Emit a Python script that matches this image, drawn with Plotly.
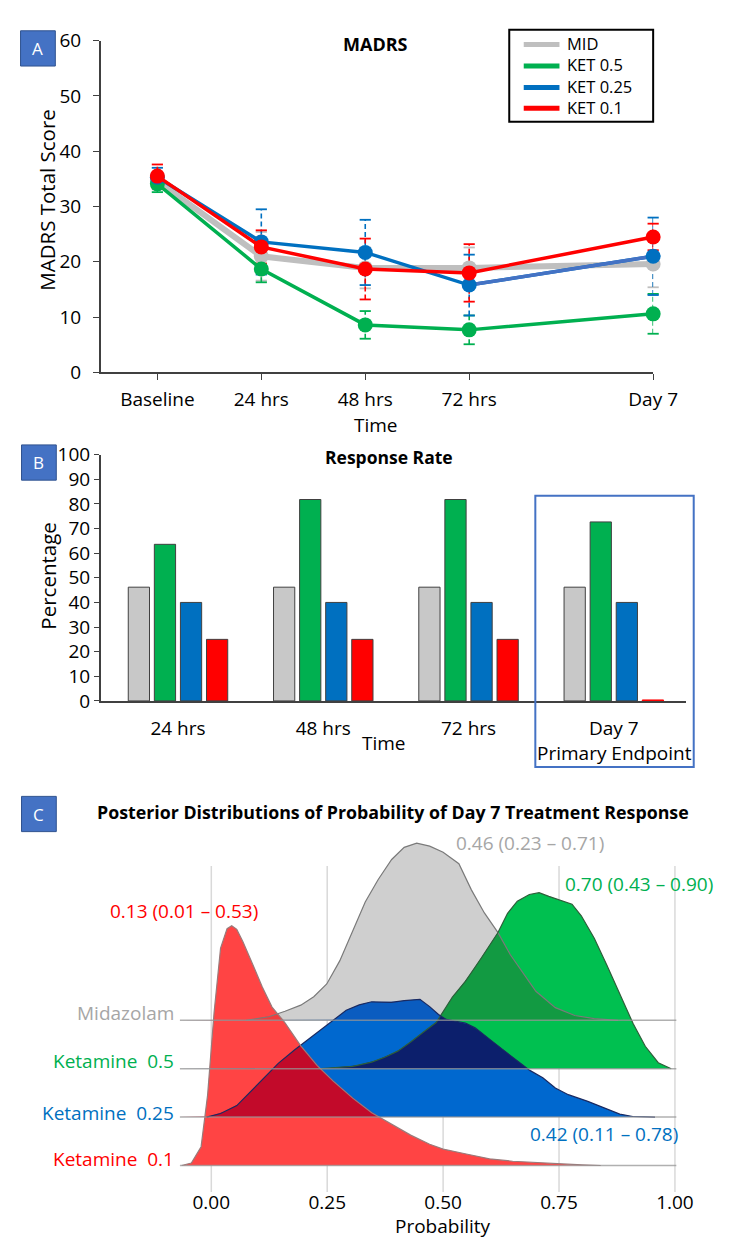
import numpy as np
import plotly.graph_objects as go

W, H = 731, 1239
def X(px): return px / W
def Y(py): return 1 - py / H

FONT = "Open Sans"
C_MID, C_K05, C_K025, C_K01 = "#BFBFBF", "#00B050", "#0070C0", "#FF0000"

# ---------------- Panel A: MADRS ----------------
time_labels = ["Baseline", "24 hrs", "48 hrs", "72 hrs", "Day 7"]
time_pos = [0, 1, 2, 3, 4.77]
madrs_mid = [34.6, 21.0, 18.9, 18.9, 19.6]
madrs_ket05 = [34.1, 18.7, 8.6, 7.7, 10.6]
madrs_ket025 = [35.3, 23.6, 21.7, 15.8, 21.0]
madrs_ket01 = [35.5, 22.7, 18.7, 18.0, 24.5]
se_mid = [1.5, 4.4, 3.7, 3.7, 4.2]
se_ket05 = [1.5, 2.4, 2.5, 2.6, 3.6]
se_ket025 = [1.7, 5.9, 5.9, 5.5, 7.0]
se_ket01 = [2.1, 3.0, 5.5, 5.2, 2.4]
series_names = ["MID", "KET 0.5", "KET 0.25", "KET 0.1"]

# ---------------- Panel B: Response rate ----------------
rr_labels = ["24 hrs", "48 hrs", "72 hrs", "Day 7"]
rr_mid = [46.2, 46.2, 46.2, 46.2]
rr_ket05 = [63.6, 81.8, 81.8, 72.7]
rr_ket025 = [40.0, 40.0, 40.0, 40.0]
rr_ket01 = [25.0, 25.0, 25.0, 0.4]

# ---------------- Panel C: posterior densities ----------------
prob_ticks = [0, 0.25, 0.5, 0.75, 1.0]
prob_ticktext = ["0.00", "0.25", "0.50", "0.75", "1.00"]
mid_x = [0.075, 0.124, 0.159, 0.193, 0.221, 0.249, 0.277, 0.305, 0.332, 0.360, 0.389, 0.416,
         0.443, 0.471, 0.50, 0.534, 0.561, 0.589, 0.618, 0.645, 0.674, 0.70, 0.742, 0.784, 0.826, 0.877]
mid_d = [0, 0.06, 0.15, 0.25, 0.39, 0.60, 0.98, 1.47, 1.95, 2.32, 2.65, 2.85,
         2.92, 2.87, 2.77, 2.58, 2.15, 1.77, 1.45, 1.08, 0.76, 0.48, 0.21, 0.08, 0.03, 0]
k05_x = [0.23, 0.249, 0.305, 0.346, 0.374, 0.402, 0.43, 0.457, 0.485, 0.52, 0.548, 0.582, 0.618, 0.639,
         0.66, 0.686, 0.707, 0.728, 0.757, 0.778, 0.798, 0.826, 0.853, 0.881, 0.91, 0.936, 0.964, 0.992]
k05_d = [0, 0.01, 0.04, 0.11, 0.19, 0.29, 0.44, 0.60, 0.76, 1.18, 1.44, 1.82, 2.24, 2.56,
         2.76, 2.87, 2.90, 2.84, 2.76, 2.71, 2.52, 2.15, 1.71, 1.23, 0.74, 0.37, 0.10, 0]
k025_x = [-0.01, 0.02, 0.055, 0.082, 0.11, 0.145, 0.18, 0.207, 0.235, 0.264, 0.291, 0.319, 0.346, 0.388,
          0.416, 0.45, 0.471, 0.49, 0.506, 0.548, 0.569, 0.604, 0.638, 0.666, 0.687, 0.715, 0.742, 0.770,
          0.812, 0.846, 0.881, 0.909, 0.957]
k025_d = [0, 0.06, 0.19, 0.40, 0.63, 0.89, 1.11, 1.27, 1.44, 1.60, 1.76, 1.85, 1.90, 1.89,
          1.92, 1.94, 1.82, 1.69, 1.61, 1.55, 1.47, 1.26, 1.05, 0.89, 0.77, 0.65, 0.48, 0.37,
          0.26, 0.16, 0.05, 0.01, 0]
k01_x = [-0.064, -0.043, -0.022, -0.008, 0.006, 0.020, 0.034, 0.044, 0.055, 0.068, 0.089, 0.110, 0.131,
         0.159, 0.193, 0.228, 0.263, 0.305, 0.346, 0.388, 0.430, 0.471, 0.50, 0.55, 0.60, 0.65, 0.70,
         0.75, 0.80, 0.84]
k01_d = [0, 0.04, 0.31, 1.16, 2.52, 3.58, 3.90, 3.95, 3.89, 3.69, 3.32, 2.94, 2.61,
         2.35, 1.97, 1.65, 1.39, 1.11, 0.87, 0.68, 0.50, 0.35, 0.27, 0.19, 0.11, 0.07, 0.05,
         0.02, 0.01, 0]
ridge_labels = ["Midazolam", "Ketamine\u00a0\u00a00.5", "Ketamine\u00a0\u00a00.25", "Ketamine\u00a0\u00a00.1"]
ridge_summaries = ["0.46 (0.23 \u2013 0.71)", "0.70 (0.43 \u2013 0.90)",
                   "0.42 (0.11 \u2013 0.78)", "0.13 (0.01 \u2013 0.53)"]

fig = go.Figure()

# ---- Panel A traces ----
madrs = [madrs_mid, madrs_ket05, madrs_ket025, madrs_ket01]
ses = [se_mid, se_ket05, se_ket025, se_ket01]
cols = [C_MID, C_K05, C_K025, C_K01]
lw = [6, 3.5, 3.5, 3.5]
for vals, se, c in zip(madrs, ses, cols):
    ex, ey, cx, cy = [], [], [], []
    for t, v, s in zip(time_pos, vals, se):
        ex += [t, t, None]
        ey += [v - s, v + s, None]
        cx += [t, t]
        cy += [v - s, v + s]
    fig.add_trace(go.Scatter(x=ex, y=ey, mode="lines", line=dict(color=c, width=1.6, dash="5px,3px"),
                             showlegend=False, hoverinfo="skip", xaxis="x", yaxis="y"))
    fig.add_trace(go.Scatter(x=cx, y=cy, mode="markers", showlegend=False, hoverinfo="skip",
                             marker=dict(symbol="line-ew", size=8, line=dict(color=c, width=1.8)),
                             xaxis="x", yaxis="y", cliponaxis=False))
for vals, c, w, nm in zip(madrs, cols, lw, series_names):
    fig.add_trace(go.Scatter(x=time_pos, y=vals, mode="lines", line=dict(color=c, width=w),
                             showlegend=False, xaxis="x", yaxis="y", cliponaxis=False))
    if nm == "KET 0.25":
        fig.add_trace(go.Scatter(x=time_pos[3:], y=vals[3:], mode="lines",
                                 line=dict(color="#4472C4", width=w), showlegend=False,
                                 xaxis="x", yaxis="y"))
    fig.add_trace(go.Scatter(x=time_pos, y=vals, mode="markers", marker=dict(color=c, size=15),
                             showlegend=False, xaxis="x", yaxis="y", cliponaxis=False))

# ---- Panel B traces ----
rr = [rr_mid, rr_ket05, rr_ket025, rr_ket01]
bar_cols = ["#C8C8C8", "#00B050", "#0070C0", "#FF0000"]
for vals, c, nm in zip(rr, bar_cols, series_names):
    lc = ["#404040" if v > 1 else c for v in vals]
    fig.add_trace(go.Bar(x=rr_labels, y=vals, marker=dict(color=c, line=dict(color=lc, width=1)),
                         showlegend=False, name=nm, xaxis="x2", yaxis="y2"))

# ---- Panel C traces ----
row_gap = 0.797
ridges = [(mid_x, mid_d, 3 * row_gap, "#CFCFCF", "#7A7A7A"),
          (k05_x, k05_d, 2 * row_gap, "#00C050", "#2E5E3A"),
          (k025_x, k025_d, 1 * row_gap, "#0068CF", "#1A2A62"),
          (k01_x, k01_d, 0.0, "#FF4444", "#9A7A7A")]
for xs, ds, base, fc, oc in ridges:
    fig.add_trace(go.Scatter(x=xs, y=[base + d for d in ds], mode="lines", fill="toself",
                             fillcolor=fc, line=dict(width=0), showlegend=False, hoverinfo="skip",
                             xaxis="x3", yaxis="y3"))

xg = np.linspace(-0.07, 1.0, 900)
tops = []
for xs, ds, base, fc, oc in ridges:
    tops.append(base + np.interp(xg, xs, ds, left=0, right=0))
bases = [r[2] for r in ridges]

def overlap(i, j, color):
    # i: higher row, j: lower row
    top = np.maximum(np.minimum(tops[i], tops[j]), bases[i])
    fig.add_trace(go.Scatter(x=np.concatenate([xg, xg[::-1]]),
                             y=np.concatenate([top, np.full_like(xg, bases[i])]),
                             mode="lines", fill="toself", fillcolor=color, line=dict(width=0),
                             showlegend=False, hoverinfo="skip", xaxis="x3", yaxis="y3"))

overlap(0, 1, "#129A42")   # midazolam & ket 0.5
overlap(0, 2, "#0A5CC0")   # midazolam & ket 0.25
overlap(0, 3, "#F03C3C")   # midazolam & ket 0.1
overlap(1, 2, "#0C1F6C")   # ket 0.5 & ket 0.25
overlap(2, 3, "#C20A2A")   # ket 0.25 & ket 0.1

for xs, ds, base, fc, oc in ridges:
    fig.add_trace(go.Scatter(x=xs, y=[base + d for d in ds], mode="lines",
                             line=dict(color=oc, width=1.2), showlegend=False, hoverinfo="skip",
                             xaxis="x3", yaxis="y3"))

# ---------------- Layout ----------------
TICK = 19
axis_common = dict(showgrid=False, zeroline=False, tickfont=dict(size=TICK, color="black", family=FONT))
shapes = []
annotations = []

def ann(text, px, py, size=TICK, color="black", bold=False, angle=0, xanchor="center", align="center"):
    annotations.append(dict(text=("<b>%s</b>" % text) if bold else text, x=X(px), y=Y(py),
                            xref="paper", yref="paper", showarrow=False, xanchor=xanchor,
                            yanchor="middle", textangle=angle, align=align,
                            font=dict(size=size, color=color, family=FONT)))

# badges
for letter, x0, y0 in [("A", 13, 10), ("B", 14, 433), ("C", 14, 792)]:
    shapes.append(dict(type="rect", xref="paper", yref="paper", x0=X(x0), x1=X(x0 + 36),
                       y0=Y(y0 + 36), y1=Y(y0), fillcolor="#4472C4", line=dict(color="#2F528F", width=1)))
    ann(letter, x0 + 18, y0 + 18, size=17, color="white")

# Panel A texts
ann("MADRS", 380, 24, size=18, bold=True)
ann("Time", 381, 413)
ann("MADRS Total Score", 41, 183, size=20.5, angle=-90)
# manual legend (boxed)
shapes.append(dict(type="rect", xref="paper", yref="paper", x0=X(519), x1=X(668), y0=Y(103), y1=Y(9),
                   line=dict(color="black", width=2), fillcolor="white"))
for c, ly in zip(cols, [24, 46, 68, 89]):
    shapes.append(dict(type="line", xref="paper", yref="paper", x0=X(534), x1=X(571), y0=Y(ly), y1=Y(ly),
                       line=dict(color=c, width=5)))
ann("<br>".join(series_names), 577, 56, size=16.5, xanchor="left", align="left")

# Panel B texts
ann("Response Rate", 394, 445, size=17.5, bold=True)
ann("Percentage", 42, 567, size=20.5, angle=-90)
ann("Time", 389, 737)
ann("Primary Endpoint", 628, 748)
shapes.append(dict(type="rect", xref="paper", yref="paper", x0=X(546), x1=X(710), y0=Y(762), y1=Y(485),
                   line=dict(color="#4472C4", width=2), fillcolor="rgba(0,0,0,0)"))
# Panel C texts
ann("Posterior Distributions of Probability of Day 7 Treatment Response", 399, 808, size=17.8, bold=True)
ann("Probability", 450, 1231)
label_cols = ["#A6A6A6", C_K05, C_K025, C_K01]
for lab, c, py in zip(ridge_labels, label_cols, [1013, 1062, 1115, 1162]):
    ann(lab, 174, py, color=c, xanchor="right")
for txt, c, (px, py) in zip(ridge_summaries, label_cols,
                            [(540, 840), (653, 881), (617, 1137), (182, 909)]):
    ann(txt, px, py, color=c)
for t in prob_ticks:
    shapes.append(dict(type="line", xref="x3", yref="paper", x0=t, x1=t, y0=Y(1196), y1=Y(863),
                       line=dict(color="#D9D9D9", width=1.5), layer="below"))
for b in bases:
    shapes.append(dict(type="line", xref="x3 domain", yref="y3", x0=0, x1=1, y0=b, y1=b,
                       line=dict(color="rgba(150,150,150,0.75)", width=1.5), layer="above"))

fig.update_layout(
    width=W, height=H, margin=dict(l=0, r=0, t=0, b=0), autosize=False,
    paper_bgcolor="white", plot_bgcolor="white",
    font=dict(family=FONT, color="black"),
    bargap=0.282, bargroupgap=0.185, barmode="group",
    xaxis=dict(domain=[X(96), X(668)], range=[-0.545, 4.77], tickvals=time_pos, ticktext=time_labels,
               showline=True, linecolor="#404040", linewidth=1.5, ticks="outside", ticklen=6,
               tickcolor="#404040", ticklabelstandoff=3, anchor="y", **axis_common),
    yaxis=dict(domain=[Y(359), Y(20)], range=[0, 60], dtick=10, showline=True, linecolor="#404040",
               linewidth=1.5, ticks="outside", ticklen=6, tickcolor="#404040", ticklabelstandoff=8,
               anchor="x", **axis_common),
    xaxis2=dict(domain=[X(96), X(702)], range=[-0.532, 3.497], type="category", showline=True,
                linecolor="#404040", linewidth=1.5, ticks="", anchor="y2", ticklabelstandoff=10,
                **axis_common),
    yaxis2=dict(domain=[Y(694.5), Y(443)], range=[0, 100], dtick=10, showline=True, linecolor="#404040",
                linewidth=1.5, ticks="outside", ticklen=5, tickcolor="#404040", anchor="x2",
                **axis_common),
    xaxis3=dict(domain=[X(178), X(692)], range=[-0.0677, 1.003], tickvals=prob_ticks,
                ticktext=prob_ticktext, showline=False, ticks="", ticklabelstandoff=-3,
                anchor="y3", **axis_common),
    yaxis3=dict(domain=[Y(1196), Y(830)], range=[-0.435, 5.468], visible=False, anchor="x3"),
    shapes=shapes, annotations=annotations, showlegend=False,
)

fig.write_html("out.html")
